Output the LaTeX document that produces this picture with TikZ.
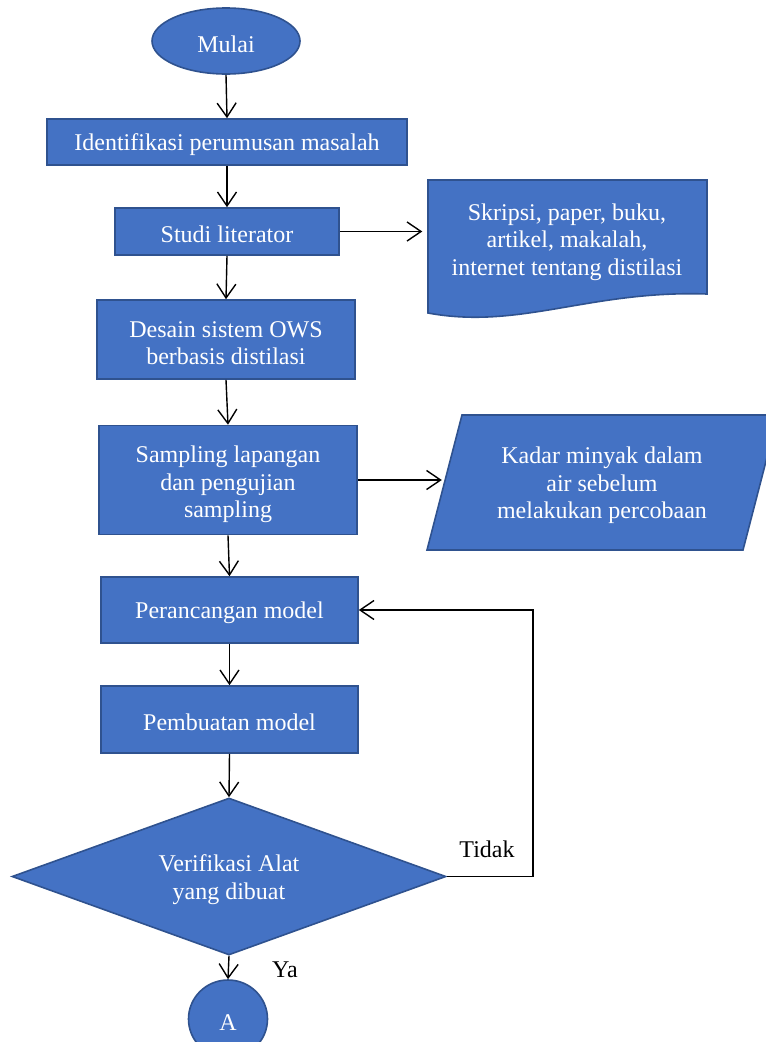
\documentclass[tikz,border=0pt]{standalone}
\usepackage{fontspec}
\setmainfont{Liberation Serif}
\usetikzlibrary{shapes.geometric,arrows.meta}
\definecolor{boxblue}{HTML}{4472C4}
\definecolor{edgeblue}{HTML}{2F528F}
\newcommand{\tstrut}{\rule{0pt}{23pt}}
\begin{document}
\begin{tikzpicture}[x=1pt,y=-1pt,
  font=\fontsize{24}{27.5}\selectfont,
  shp/.style={fill=boxblue,draw=edgeblue,line width=1.6pt,text=white,inner sep=0pt,align=center,
    execute at begin node={\tstrut}},
  proc/.style={shp,rectangle},
  txt/.style={text=white,align=center,inner sep=0pt},
  arr/.style={draw=black,line width=1.4pt,-{Straight Barb[length=14pt,width=19pt]}},
  lbl/.style={text=black,inner sep=0pt}]
\useasboundingbox (0,0) rectangle (766,1042);
% start
\node[shp,ellipse,minimum width=148pt,minimum height=66pt] (mulai) at (226,41) {Mulai};
\node[proc,minimum width=360pt,minimum height=46pt] (ident) at (227,142) {Identifikasi perumusan masalah};
\node[proc,minimum width=224pt,minimum height=47pt] (studi) at (227,231.5) {Studi literator};
% document shape
\draw[fill=boxblue,draw=edgeblue,line width=1.6pt]
  (428,180) -- (707,180) -- (707,294)
  .. controls (590,290) and (520,330) .. (428,313) -- cycle;
\node[txt,minimum width=279pt,minimum height=110pt] (doc) at (567,240)
  {\rule{0pt}{21pt}Skripsi, paper, buku,\\artikel, makalah,\\internet tentang distilasi};
\node[proc,minimum width=258pt,minimum height=79pt] (desain) at (226,339.5) {\tstrut Desain sistem OWS\\berbasis distilasi};
\node[proc,minimum width=258pt,minimum height=109pt] (sampling) at (228,480) {\rule{0pt}{26pt}Sampling lapangan\\dan pengujian\\sampling};
% data shape
\draw[fill=boxblue,draw=edgeblue,line width=1.6pt]
  (462,415) -- (778,415) -- (743,550) -- (427,550) -- cycle;
\node[txt,minimum width=320pt,minimum height=100pt] (data) at (602,484)
  {\rule{0pt}{20pt}Kadar minyak dalam\\air sebelum\\melakukan percobaan};
\node[proc,minimum width=257pt,minimum height=66pt] (peran) at (229.5,610) {Perancangan model};
\node[proc,minimum width=257pt,minimum height=67pt] (pemb) at (229.5,719.5) {Pembuatan model};
\node[shp,diamond,shape aspect=2.76,minimum width=434pt,minimum height=157pt] (verif) at (229,876.5) {\tstrut Verifikasi Alat\\yang dibuat};
\node[shp,ellipse,minimum width=79pt,minimum height=78pt] (akhir) at (228,1019) {A};
% labels
\node[lbl] (tidak) at (487,849) {Tidak};
\node[lbl] (ya) at (285,970) {Ya};
% connectors
\draw[arr] (mulai.south) -- (ident.north);
\draw[arr] (ident.south) -- (studi.north);
\draw[arr] (studi.east) -- ([xshift=-5pt]studi.east -| doc.west);
\draw[arr] (studi.south) -- (desain.north);
\draw[arr] (desain.south) -- (sampling.north);
\draw[arr] (sampling.east) -- (sampling.east -| data.west);
\draw[arr] (sampling.south) -- (peran.north);
\draw[arr] (peran.south) -- (pemb.north);
\draw[arr] (pemb.south) -- (verif.north);
\draw[arr] (verif.east) -- ++(86,0) |- (peran.east);
\draw[arr] (verif.south) -- (akhir.north);
\end{tikzpicture}
\end{document}
